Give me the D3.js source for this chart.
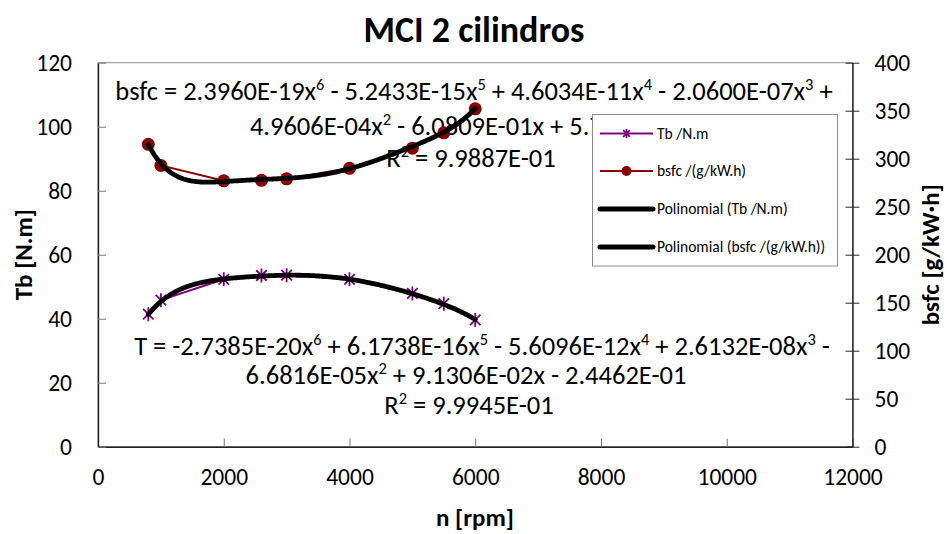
<!DOCTYPE html>
<html><head><meta charset="utf-8">
<script src="https://cdn.jsdelivr.net/npm/d3@7"></script>
<style>body{margin:0;background:#fff} svg{display:block} text{font-family: Carlito, Lato, sans-serif; fill:#000}</style>
</head><body><svg id="c" width="947" height="534"></svg>
<script>
// ---- data ----
const rpm = [800, 1000, 2000, 2600, 3000, 4000, 5000, 5500, 6000];
const torque = [41.4, 45.8, 52.3, 53.5, 53.6, 52.3, 47.9, 44.7, 39.6];
const bsfc = [315, 293, 277, 277.5, 279, 290, 311, 327, 352];
const xTicks = [0, 2000, 4000, 6000, 8000, 10000, 12000];
const yLeftTicks = [0, 20, 40, 60, 80, 100, 120];
const yRightTicks = [0, 50, 100, 150, 200, 250, 300, 350, 400];
// trendline coefficients as printed on the chart (x^6 ... x^0)
const tbCoef = [-2.7385E-20, 6.1738E-16, -5.6096E-12, 2.6132E-08, -6.6816E-05, 9.1306E-02, -2.4462E-01];
const bsfcCoef = [2.3960E-19, -5.2433E-15, 4.6034E-11, -2.0600E-07, 4.9606E-04, -6.0809E-01, 5.7200E+02];
const r2Tb = "9.9945E-01";
const r2Bsfc = "9.9887E-01";
const seriesNames = ["Tb /N.m", "bsfc /(g/kW.h)", "Polinomial (Tb /N.m)", "Polinomial (bsfc /(g/kW.h))"];
const titleText = "MCI 2 cilindros";

// ---- layout ----
const svg = d3.select("#c");
const L = 98, R = 852.5, T = 62.7, B = 446.7;
const x = d3.scaleLinear().domain([0, 12000]).range([L, R]);
const yL = d3.scaleLinear().domain([0, 120]).range([B, T]);
const yR = d3.scaleLinear().domain([0, 400]).range([B, T]);
const PURPLE = "#800080", RED = "#8B0000";

// plot border
svg.append("rect").attr("x", L).attr("y", T).attr("width", R - L).attr("height", B - T)
  .attr("fill", "none").attr("stroke", "#8c8c8c").attr("stroke-width", 1);

// axes
const gx = svg.append("g").attr("transform", `translate(0,${B})`)
  .call(d3.axisBottom(x).tickValues(xTicks).tickFormat(d3.format("d")).tickSizeInner(-8).tickSizeOuter(0).tickPadding(22));
const gl = svg.append("g").attr("transform", `translate(${L},0)`)
  .call(d3.axisLeft(yL).tickValues(yLeftTicks).tickFormat(d3.format("d")).tickSizeInner(-8).tickSizeOuter(0).tickPadding(26));
const gr = svg.append("g").attr("transform", `translate(${R},0)`)
  .call(d3.axisRight(yR).tickValues(yRightTicks).tickFormat(d3.format("d")).tickSizeInner(7).tickSizeOuter(0).tickPadding(15));
gr.selectAll(".tick line").attr("x1", -7).attr("x2", 7);
[gx, gl, gr].forEach(g => {
  g.select(".domain").attr("stroke", "#222").attr("stroke-width", 1.4);
  g.selectAll(".tick line").attr("stroke", "#777").attr("stroke-width", 1);
  g.selectAll(".tick text").style("font-size", "23.5px").attr("fill", "#000");
});
gr.selectAll(".tick line").attr("stroke", "#222");
gx.selectAll(".tick text").attr("dy", "0.71em").attr("y", 22);

// titles
svg.append("text").attr("x", 474).attr("y", 42).attr("text-anchor", "middle")
  .style("font-size", "36px").style("font-weight", "bold").text(titleText);
svg.append("text").attr("x", 475).attr("y", 526).attr("text-anchor", "middle")
  .style("font-size", "25px").style("font-weight", "bold").text("n [rpm]");
svg.append("text").attr("transform", `translate(32,${(T + B) / 2}) rotate(-90)`).attr("text-anchor", "middle")
  .style("font-size", "25px").style("font-weight", "bold").text("Tb [N.m]");
svg.append("text").attr("transform", `translate(939,${(T + B) / 2}) rotate(-90)`).attr("text-anchor", "middle")
  .style("font-size", "25px").style("font-weight", "bold").text("bsfc [g/kW\u00B7h]");

// ---- equation labels ----
function fmt(v) {
  let s = Math.abs(v).toExponential(4).toUpperCase();
  s = s.replace(/E([+-])(\d)$/, "E$10$2");
  return s;
}
function terms(coef) {
  return coef.map((c, i) => ({ sign: c < 0 ? "-" : "+", num: fmt(c), p: coef.length - 1 - i }));
}
function drawLine(cx, cy, segs, fs) {
  const t = svg.append("text").attr("x", cx).attr("y", cy).attr("text-anchor", "middle").style("font-size", fs + "px");
  segs.forEach(s => {
    if (s.sup) {
      t.append("tspan").attr("dy", -fs * 0.36).style("font-size", (fs * 0.62) + "px").text(s.t);
      t.append("tspan").attr("dy", fs * 0.36).text("\u200B");
    } else t.append("tspan").text(s.t);
  });
  return t;
}
function termSegs(tm, first) {
  const segs = [];
  const pre = first ? (tm.sign === "-" ? "-" : "") : ` ${tm.sign} `;
  if (tm.p >= 2) { segs.push({ t: pre + tm.num + "x" }); segs.push({ t: String(tm.p), sup: true }); }
  else if (tm.p === 1) segs.push({ t: pre + tm.num + "x" });
  else segs.push({ t: pre + tm.num });
  return segs;
}
const EQ = 26.5;
// bsfc equation (top)
{
  const tm = terms(bsfcCoef);
  let l1 = [{ t: "bsfc = " }];
  for (let i = 0; i < 4; i++) l1 = l1.concat(termSegs(tm[i], i === 0));
  l1.push({ t: ` ${tm[4].sign}` });
  let l2 = [{ t: tm[4].num + "x" }, { t: "2", sup: true }];
  for (let i = 5; i < 7; i++) l2 = l2.concat(termSegs(tm[i], false));
  drawLine(474, 100, l1, EQ);
  drawLine(473, 135, l2, EQ);
  drawLine(471, 167, [{ t: "R" }, { t: "2", sup: true }, { t: " = " + r2Bsfc }], EQ);
}
// torque equation (bottom)
{
  const tm = terms(tbCoef);
  let l1 = [{ t: "T = " }];
  for (let i = 0; i < 4; i++) l1 = l1.concat(termSegs(tm[i], i === 0));
  l1.push({ t: ` ${tm[4].sign}` });
  let l2 = [{ t: tm[4].num + "x" }, { t: "2", sup: true }];
  for (let i = 5; i < 7; i++) l2 = l2.concat(termSegs(tm[i], false));
  drawLine(482, 355, l1, EQ);
  drawLine(466, 384, l2, EQ);
  drawLine(469, 414, [{ t: "R" }, { t: "2", sup: true }, { t: " = " + r2Tb }], EQ);
}

// ---- series ----
const tbData = rpm.map((r, i) => [r, torque[i]]);
const bsData = rpm.map((r, i) => [r, bsfc[i]]);
svg.append("path").datum(tbData).attr("fill", "none").attr("stroke", PURPLE).attr("stroke-width", 2)
  .attr("d", d3.line().x(d => x(d[0])).y(d => yL(d[1])));
svg.append("path").datum(bsData).attr("fill", "none").attr("stroke", RED).attr("stroke-width", 2)
  .attr("d", d3.line().x(d => x(d[0])).y(d => yR(d[1])));

function star(g, cx, cy, s, col) {
  const a = s * 0.75;
  g.append("path").attr("d", `M${cx - a},${cy - a}L${cx + a},${cy + a}M${cx - a},${cy + a}L${cx + a},${cy - a}M${cx},${cy - s}L${cx},${cy + s}`)
    .attr("stroke", col).attr("stroke-width", 1.8).attr("fill", "none");
}
const mk = svg.append("g");
tbData.forEach(d => star(mk, x(d[0]), yL(d[1]), 7, PURPLE));
mk.selectAll("circle").data(bsData).join("circle")
  .attr("cx", d => x(d[0])).attr("cy", d => yR(d[1])).attr("r", 6.5).attr("fill", RED);

// ---- trendlines (from printed coefficients) ----
const poly = (c, v) => c.reduce((acc, k) => acc * v + k, 0);
const xs = d3.range(rpm[0], rpm[rpm.length - 1] + 1, 20);
svg.append("path").datum(xs).attr("fill", "none").attr("stroke", "#000").attr("stroke-width", 4.8)
  .attr("stroke-linecap", "round").attr("d", d3.line().x(v => x(v)).y(v => yL(poly(tbCoef, v))));
svg.append("path").datum(xs).attr("fill", "none").attr("stroke", "#000").attr("stroke-width", 4.8)
  .attr("stroke-linecap", "round").attr("d", d3.line().x(v => x(v)).y(v => yR(poly(bsfcCoef, v))));

// ---- legend ----
const lg = svg.append("g");
lg.append("rect").attr("x", 592.5).attr("y", 114.5).attr("width", 245).attr("height", 151.5)
  .attr("fill", "#fff").attr("stroke", "#8c8c8c").attr("stroke-width", 1);
const rows = [133.5, 171, 209, 247];
const lx1 = 600, lx2 = 653, lmid = 626.5;
seriesNames.forEach((n, i) => {
  const y = rows[i];
  if (i < 2) {
    lg.append("line").attr("x1", lx1).attr("x2", lx2).attr("y1", y).attr("y2", y)
      .attr("stroke", i === 0 ? PURPLE : RED).attr("stroke-width", 2);
    if (i === 0) star(lg, lmid, y, 4.5, PURPLE);
    else lg.append("circle").attr("cx", lmid).attr("cy", y).attr("r", 5).attr("fill", RED);
  } else {
    lg.append("line").attr("x1", lx1).attr("x2", lx2).attr("y1", y).attr("y2", y)
      .attr("stroke", "#000").attr("stroke-width", 5).attr("stroke-linecap", "round");
  }
  lg.append("text").attr("x", 657).attr("y", y).attr("dy", "0.35em").style("font-size", "15.5px").text(n);
});
</script></body></html>
